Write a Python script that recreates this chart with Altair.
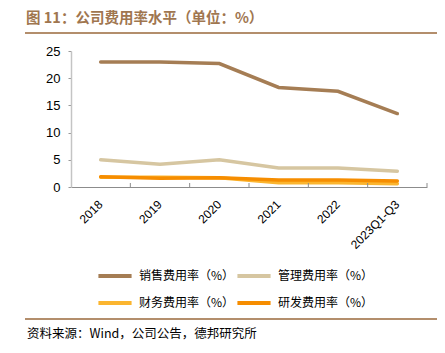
import altair as alt
import pandas as pd

years = ["2018", "2019", "2020", "2021", "2022", "2023Q1-Q3"]
series_names = ["销售费用率（%）", "管理费用率（%）", "财务费用率（%）", "研发费用率（%）"]
sales = [23.0, 23.0, 22.7, 18.3, 17.6, 13.5]
admin = [5.0, 4.2, 5.0, 3.5, 3.5, 2.9]
finance = [1.8, 1.8, 1.7, 0.8, 0.8, 0.6]
rnd = [1.9, 1.6, 1.7, 1.3, 1.3, 1.1]
colors = ["#A57D54", "#D6C6A1", "#FBB52F", "#F68D00"]
title_text = "图 11：公司费用率水平（单位：%）"
source_text = "资料来源：Wind，公司公告，德邦研究所"

rows = []
for name, vals in zip(series_names, [sales, admin, finance, rnd]):
    for i, (y, v) in enumerate(zip(years, vals)):
        rows.append({"year": y, "series": name, "value": v, "order": series_names.index(name)})
df = pd.DataFrame(rows)

W, H = 356, 136
cjk = "Noto Sans CJK SC"
latin = "Liberation Sans"

x_enc = alt.X("year:N", sort=years, bandPosition=0.5,
              scale=alt.Scale(type="band", paddingInner=0, paddingOuter=0),
              axis=alt.Axis(title=None, labelAngle=-45, labelAlign="right",
                            labelBaseline="middle", labelFont=latin, labelFontSize=12,
                            labelColor="#000000", ticks=False, domainColor="#8C8C8C",
                            domainWidth=1, labelPadding=15))
y_enc = alt.Y("value:Q", scale=alt.Scale(domain=[0, 25]),
              axis=alt.Axis(title=None, values=[0, 5, 10, 15, 20, 25], grid=False,
                            labelFont=latin, labelFontSize=13, labelColor="#000000",
                            tickSize=3, tickColor="#999999", domainColor="#C4C4C4",
                            domainWidth=1.5, labelPadding=8))

lines = alt.Chart(df).mark_line(strokeWidth=3.5, strokeCap="round").encode(
    x=x_enc,
    y=y_enc,
    color=alt.Color("series:N", sort=series_names,
                    scale=alt.Scale(domain=series_names, range=colors),
                    legend=alt.Legend(title=None, orient="none", legendX=25, legendY=206,
                                      columns=2, symbolType="stroke", symbolSize=1100,
                                      symbolStrokeWidth=4, labelFont=cjk, labelFontSize=12,
                                      labelColor="#000000", labelOffset=5, columnPadding=-7,
                                      rowPadding=-11, padding=0, direction="horizontal")),
    order=alt.Order("order:Q"),
    detail="series:N",
)

ticks_df = pd.DataFrame({"year": years})
xticks = alt.Chart(ticks_df).mark_rule(color="#8C8C8C", strokeWidth=1).encode(
    x=alt.X("year:N", sort=years, bandPosition=1),
    y=alt.value(H - 4), y2=alt.value(H))

one = pd.DataFrame({"t": [title_text], "s": [source_text]})
title = alt.Chart(one).mark_text(align="left", baseline="middle", font=cjk, fontSize=14.5,
                                 fontWeight="bold", color="#A0764F").encode(
    text="t:N", x=alt.value(-45), y=alt.value(-32))
title_rule = alt.Chart(one).mark_rule(color="#B38E6C", strokeWidth=2).encode(
    x=alt.value(-46), x2=alt.value(366), y=alt.value(-18))
bottom_rule = alt.Chart(one).mark_rule(color="#B38E6C", strokeWidth=2).encode(
    x=alt.value(-46), x2=alt.value(366), y=alt.value(268))
source = alt.Chart(one).mark_text(align="left", baseline="middle", font=cjk, fontSize=12.5,
                                  color="#000000").encode(
    text="s:N", x=alt.value(-44), y=alt.value(283))

chart = alt.layer(lines, xticks, title, title_rule, bottom_rule, source).resolve_scale(
    x="shared").properties(
    width=W, height=H,
    autosize=alt.AutoSizeParams(type="none"),
    padding={"left": 71, "top": 51, "right": 18, "bottom": 166},
).configure_view(stroke=None)

chart.save("out.html", embed_options={"renderer": "svg", "actions": False})
